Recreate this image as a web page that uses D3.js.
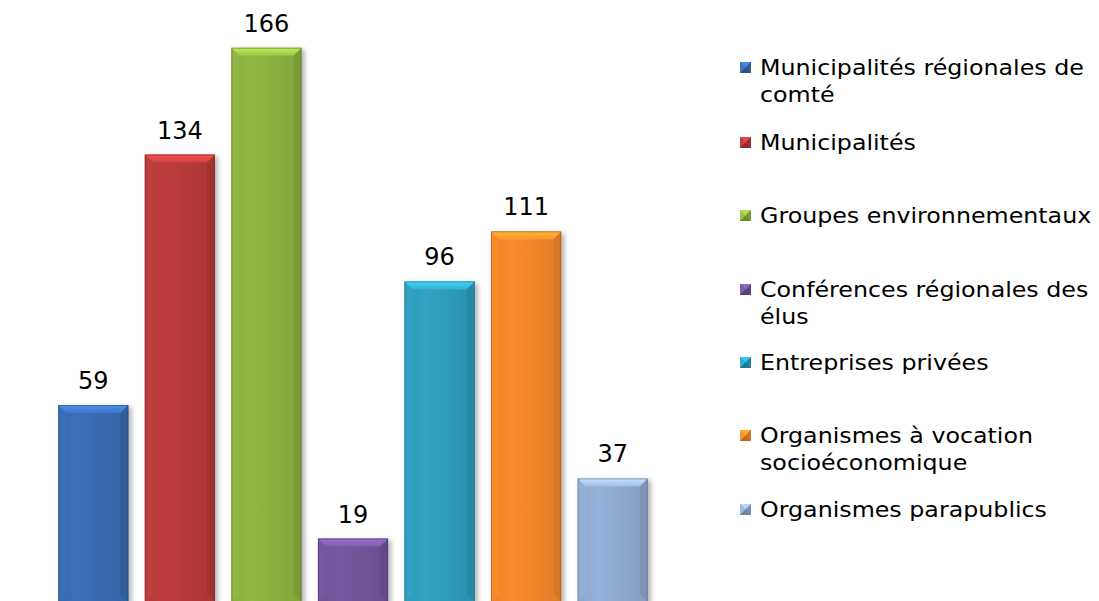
<!DOCTYPE html>
<html>
<head>
<meta charset="utf-8">
<script src="https://cdn.jsdelivr.net/npm/d3@7"></script>
<style>
html,body{margin:0;padding:0;background:#fff;}
svg{display:block;}
text{font-family:"DejaVu Sans",Verdana,sans-serif;fill:#000;}
</style>
</head>
<body>
<svg id="chart" width="1099" height="601"></svg>
<script>
const categories = [
  "Municipalités régionales de comté",
  "Municipalités",
  "Groupes environnementaux",
  "Conférences régionales des élus",
  "Entreprises privées",
  "Organismes à vocation socioéconomique",
  "Organismes parapublics"
];
const legendLines = [
  ["Municipalités régionales de", "comté"],
  ["Municipalités"],
  ["Groupes environnementaux"],
  ["Conférences régionales des", "élus"],
  ["Entreprises privées"],
  ["Organismes à vocation", "socioéconomique"],
  ["Organismes parapublics"]
];
const values = [59, 134, 166, 19, 96, 111, 37];
const colors = ["#3a6db3", "#b93c3a", "#8fb443", "#73559d", "#2fa0bf", "#f6892c", "#93acd4"];

const svg = d3.select("#chart");
const defs = svg.append("defs");

const x = d3.scaleBand().domain(categories).range([50, 656]).paddingInner(0.19).paddingOuter(0.095);
const y = d3.scaleLinear().domain([0, 180]).range([602, 1]);

// drop shadow
const f = defs.append("filter").attr("id", "sh").attr("x", "-20%").attr("y", "-20%").attr("width", "150%").attr("height", "150%");
f.append("feGaussianBlur").attr("in", "SourceAlpha").attr("stdDeviation", 2.5).attr("result", "b");
f.append("feOffset").attr("in", "b").attr("dx", 3).attr("dy", 2).attr("result", "o");
f.append("feComponentTransfer").attr("in", "o").attr("result", "o2")
  .append("feFuncA").attr("type", "linear").attr("slope", 0.3);
const fm = f.append("feMerge");
fm.append("feMergeNode").attr("in", "o2");
fm.append("feMergeNode").attr("in", "SourceGraphic");

colors.forEach((c, i) => {
  const base = d3.color(c);
  const g = defs.append("linearGradient").attr("id", "g" + i).attr("x1", 0).attr("x2", 1).attr("y1", 0).attr("y2", 0);
  g.append("stop").attr("offset", "0%").attr("stop-color", base.darker(0.1));
  g.append("stop").attr("offset", "30%").attr("stop-color", base.brighter(0.06));
  g.append("stop").attr("offset", "100%").attr("stop-color", base.darker(0.25));
  const t = defs.append("linearGradient").attr("id", "t" + i).attr("x1", 0).attr("x2", 0).attr("y1", 0).attr("y2", 1);
  t.append("stop").attr("offset", "0%").attr("stop-color", base.brighter(0.8));
  t.append("stop").attr("offset", "100%").attr("stop-color", base.brighter(0.25));
});

const bev = 8;
const bars = svg.append("g").selectAll("g").data(values).join("g")
  .attr("filter", "url(#sh)");

bars.each(function(v, i) {
  const g = d3.select(this);
  const x0 = x(categories[i]), w = x.bandwidth(), x1 = x0 + w;
  const y0 = y(v), y1 = y(0);
  const base = d3.color(colors[i]);
  g.append("rect").attr("x", x0).attr("y", y0).attr("width", w).attr("height", y1 - y0)
    .attr("fill", `url(#g${i})`);
  // left bevel
  g.append("polygon").attr("points", [[x0, y0], [x0 + bev, y0 + bev], [x0 + bev, y1 - bev], [x0, y1]].join(" "))
    .attr("fill", base.brighter(0.15)).attr("opacity", 0.5);
  // right bevel
  g.append("polygon").attr("points", [[x1, y0], [x1 - bev, y0 + bev], [x1 - bev, y1 - bev], [x1, y1]].join(" "))
    .attr("fill", base.darker(0.5)).attr("opacity", 0.7);
  // top bevel
  g.append("polygon").attr("points", [[x0, y0], [x1, y0], [x1 - bev, y0 + bev], [x0 + bev, y0 + bev]].join(" "))
    .attr("fill", `url(#t${i})`);
  g.append("rect").attr("x", x0 + 0.5).attr("y", y0 + 0.5).attr("width", w - 1).attr("height", y1 - y0)
    .attr("fill", "none").attr("stroke", base.darker(1.3)).attr("stroke-width", 1).attr("opacity", 0.55);
});

// value labels
svg.append("g").selectAll("text").data(values).join("text")
  .attr("x", (d, i) => x(categories[i]) + x.bandwidth() / 2)
  .attr("y", d => y(d) - 16)
  .attr("text-anchor", "middle")
  .attr("font-size", "24px")
  .text(d => d);

// legend
const legendBase = [75, 150, 223, 297, 370, 443, 517];
const lg = svg.append("g");
legendLines.forEach((lines, i) => {
  const by = legendBase[i];
  const c = d3.color(colors[i]);
  const mx = 740, my = by - 13, s = 11;
  const m = lg.append("g");
  m.append("rect").attr("x", mx).attr("y", my).attr("width", s).attr("height", s).attr("fill", c);
  m.append("polygon").attr("points", [[mx, my], [mx + s, my], [mx + s / 2, my + s / 2]].join(" ")).attr("fill", c.brighter(0.6));
  m.append("polygon").attr("points", [[mx, my], [mx, my + s], [mx + s / 2, my + s / 2]].join(" ")).attr("fill", c.brighter(0.2));
  m.append("polygon").attr("points", [[mx + s, my], [mx + s, my + s], [mx + s / 2, my + s / 2]].join(" ")).attr("fill", c.darker(0.5));
  m.append("polygon").attr("points", [[mx, my + s], [mx + s, my + s], [mx + s / 2, my + s / 2]].join(" ")).attr("fill", c.darker(0.8));
  lines.forEach((t, j) => {
    lg.append("text")
      .attr("transform", `translate(760,${by + j * 27}) scale(1.08,1)`)
      .attr("font-size", "22px")
      .text(t);
  });
});
</script>
</body>
</html>
